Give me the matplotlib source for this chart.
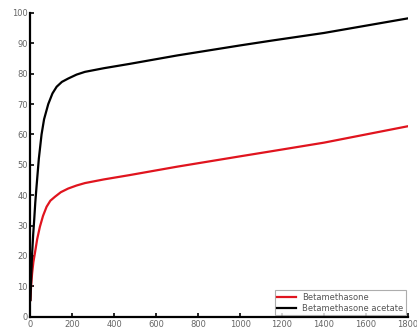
import matplotlib
matplotlib.use('Agg')
import matplotlib.pyplot as plt

# release curves (time vs cumulative %)
t_beta = [0, 3, 8, 14, 21, 32, 45, 60, 77, 95, 117, 145, 180, 220, 260, 350,
          471, 700, 1000, 1152, 1400, 1800]
y_beta = [5.5, 10, 14.3, 18, 20.8, 25.5, 29.6, 33.2, 36.2, 38.2, 39.5, 41,
          42.2, 43.2, 44.0, 45.2, 46.6, 49.4, 52.8, 54.5, 57.3, 62.7]

t_acet = [0, 4, 8, 13, 18, 23, 29, 40, 53, 65, 85, 105, 125, 150, 180, 220,
          260, 350, 471, 700, 1000, 1152, 1400, 1800]
y_acet = [5.5, 14, 20.8, 27, 32, 37.5, 42.8, 52, 60, 65, 70, 73.5, 75.7, 77.3,
          78.4, 79.7, 80.6, 81.8, 83.2, 86, 89.3, 90.9, 93.4, 98.2]

labels = ['Betamethasone', 'Betamethasone acetate']
xticks = list(range(0, 1801, 200))
yticks = list(range(0, 101, 10))

fig = plt.figure(figsize=(4.17, 3.31), dpi=100)
ax = fig.add_axes([0.073, 0.043, 0.905, 0.918])

ax.plot(t_beta, y_beta, color='#e0141e', lw=1.6, label=labels[0])
ax.plot(t_acet, y_acet, color='black', lw=1.6, label=labels[1])

ax.set_xlim(0, 1800)
ax.set_ylim(0, 100)
ax.set_xticks(xticks)
ax.set_yticks(yticks)

for side in ['top', 'right']:
    ax.spines[side].set_visible(False)
for side in ['left', 'bottom']:
    ax.spines[side].set_linewidth(1.6)

ax.tick_params(direction='in', length=3, width=1.2, labelsize=6,
               labelcolor='#666666', pad=2)

leg = ax.legend(loc='lower right', fontsize=6, frameon=True, fancybox=False,
                handlelength=2.2, borderpad=0.3, labelspacing=0.2,
                borderaxespad=0.2)
leg.get_frame().set_edgecolor('#999999')
leg.get_frame().set_linewidth(0.8)
for txt in leg.get_texts():
    txt.set_color('#555555')

fig.savefig('out.png', dpi=100)
